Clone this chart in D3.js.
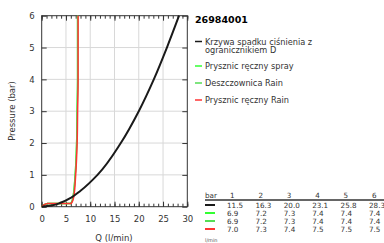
<!DOCTYPE html>
<html>
<head>
<meta charset="utf-8">
<script src="https://cdn.jsdelivr.net/npm/d3@7"></script>
<style>
  body { margin: 0; background: #fff; }
  svg { font-family: "DejaVu Sans", sans-serif; }
</style>
</head>
<body>
<div id="chart"></div>
<script>
// chart data
var title = "26984001";
var seriesNames = ["Krzywa spadku ciśnienia z|ogranicznikiem D", "Prysznic ręczny spray", "Deszczownica Rain", "Prysznic ręczny Rain"];
var seriesColors = ["#1a1a1a", "#33ff33", "#55dd55", "#ff3333"];

// table values (Q at 1..6 bar)
var pressures = [1, 2, 3, 4, 5, 6];
var tableBlack = [11.5, 16.3, 20.0, 23.1, 25.8, 28.3];
var tableSpray = [6.9, 7.2, 7.3, 7.4, 7.4, 7.4];
var tableRainD = [6.9, 7.2, 7.3, 7.4, 7.4, 7.4];
var tableRainH = [7.0, 7.3, 7.4, 7.5, 7.5, 7.5];

// curve points [Q, p]
var curveBlack = [[0, 0], [2, 0.04], [4, 0.13], [6, 0.28], [8, 0.5], [11.5, 1], [16.3, 2], [20.0, 3], [23.1, 4], [25.8, 5], [28.3, 6]];
var curveSpray = [[0, 0], [0.5, 0.06], [1.2, 0.1], [6.0, 0.1], [6.4, 0.25], [6.9, 1], [7.2, 2], [7.3, 3], [7.4, 4], [7.4, 5], [7.4, 6]];
var curveRainD = [[0, 0], [0.5, 0.06], [1.2, 0.1], [6.0, 0.1], [6.4, 0.25], [6.9, 1], [7.2, 2], [7.3, 3], [7.4, 4], [7.4, 5], [7.4, 6]];
var curveRainH = [[0, 0], [0.5, 0.06], [1.2, 0.1], [6.1, 0.1], [6.6, 0.3], [7.0, 1], [7.3, 2], [7.4, 3], [7.5, 4], [7.5, 5], [7.5, 6]];

var xTicks = [0, 5, 10, 15, 20, 25, 30];
var yTicks = [0, 1, 2, 3, 4, 5, 6];

var svgWidth = 384;
var svgHeight = 243;

var plot = { left: 41.7, right: 187.3, top: 15.7, bottom: 206.7 };

var svg = d3.select("#chart")
  .append("svg")
  .attr("width", svgWidth)
  .attr("height", svgHeight);

var x = d3.scaleLinear().domain([0, 30]).range([plot.left, plot.right]);
var y = d3.scaleLinear().domain([0, 6]).range([plot.bottom, plot.top]);

// grid
svg.append("g").selectAll("line")
  .data(xTicks.slice(1, -1))
  .enter().append("line")
  .attr("x1", d => x(d)).attr("x2", d => x(d))
  .attr("y1", plot.top).attr("y2", plot.bottom)
  .attr("stroke", "#d8d8d8").attr("stroke-width", 1);

svg.append("g").selectAll("line")
  .data(yTicks.slice(1, -1))
  .enter().append("line")
  .attr("x1", plot.left).attr("x2", plot.right)
  .attr("y1", d => y(d)).attr("y2", d => y(d))
  .attr("stroke", "#d8d8d8").attr("stroke-width", 1);

// axes (inward ticks)
var minor = d3.range(0, 31, 1);
svg.append("g")
  .attr("transform", `translate(0, ${plot.bottom})`)
  .call(d3.axisBottom(x).tickValues(minor).tickSize(-3).tickFormat(""))
  .call(g => g.select(".domain").remove());
svg.append("g")
  .attr("transform", `translate(0, ${plot.top})`)
  .call(d3.axisTop(x).tickValues(minor).tickSize(-3).tickFormat(""))
  .call(g => g.select(".domain").remove());
svg.append("g")
  .attr("transform", `translate(0, ${plot.bottom})`)
  .call(d3.axisBottom(x).tickValues(xTicks).tickSize(-5).tickPadding(9).tickFormat(d3.format("d")))
  .call(g => g.select(".domain").remove());
svg.append("g")
  .attr("transform", `translate(0, ${plot.top})`)
  .call(d3.axisTop(x).tickValues(xTicks).tickSize(-5).tickFormat(""))
  .call(g => g.select(".domain").remove());
svg.append("g")
  .attr("transform", `translate(${plot.left}, 0)`)
  .call(d3.axisLeft(y).tickValues(yTicks).tickSize(-5).tickPadding(7).tickFormat(d3.format("d")))
  .call(g => g.select(".domain").remove());
svg.append("g")
  .attr("transform", `translate(${plot.right}, 0)`)
  .call(d3.axisRight(y).tickValues(yTicks).tickSize(-5).tickFormat(""))
  .call(g => g.select(".domain").remove());

svg.selectAll(".tick line").attr("stroke", "#333");
svg.selectAll(".tick text").attr("fill", "#333").style("font-size", "8.5px").style("font-family", "DejaVu Sans");

// frame
svg.append("rect")
  .attr("x", plot.left).attr("y", plot.top)
  .attr("width", plot.right - plot.left).attr("height", plot.bottom - plot.top)
  .attr("fill", "none").attr("stroke", "#333").attr("stroke-width", 1);

// curves
var line = d3.line()
  .x(d => x(d[0]))
  .y(d => y(d[1]))
  .curve(d3.curveMonotoneY);

var curves = [curveBlack, curveSpray, curveRainD, curveRainH];
var widths = [2, 1.5, 1.5, 1.5];
[1, 2, 3, 0].forEach(function(i) {
  svg.append("path")
    .datum(curves[i])
    .attr("d", line)
    .attr("fill", "none")
    .attr("stroke", seriesColors[i])
    .attr("stroke-width", widths[i]);
});

// axis labels
svg.append("text")
  .attr("x", 114).attr("y", 241)
  .attr("text-anchor", "middle")
  .attr("fill", "#333").style("font-size", "8.5px")
  .text("Q (l/min)");

svg.append("text")
  .attr("transform", "translate(15, 111) rotate(-90)")
  .attr("text-anchor", "middle")
  .attr("fill", "#333").style("font-size", "8.5px")
  .text("Pressure (bar)");

// legend
svg.append("text")
  .attr("x", 195).attr("y", 22.5)
  .attr("fill", "#000").style("font-size", "9.5px").style("font-weight", "bold")
  .text(title);

var legendY = [41.5, 66, 83, 100];
seriesNames.forEach(function(name, i) {
  svg.append("line")
    .attr("x1", 195).attr("x2", 202)
    .attr("y1", legendY[i]).attr("y2", legendY[i])
    .attr("stroke", seriesColors[i]).attr("stroke-width", 1.5);
  name.split("|").forEach(function(part, j) {
    svg.append("text")
      .attr("x", 205).attr("y", legendY[i] + 3 + j * 8.8)
      .attr("fill", "#333").style("font-size", "8.2px")
      .text(part);
  });
});

// table
var col = d3.scaleLinear().domain([1, 6]).range([227, 369]);
svg.append("text")
  .attr("x", 205).attr("y", 198)
  .attr("fill", "#333").style("font-size", "7.2px")
  .text("bar");
svg.append("g").selectAll("text")
  .data(pressures)
  .enter().append("text")
  .attr("x", d => col(d) + 3).attr("y", 198)
  .attr("fill", "#333").style("font-size", "7.2px")
  .text(d => d);
svg.append("line")
  .attr("x1", 205).attr("x2", 384)
  .attr("y1", 200).attr("y2", 200)
  .attr("stroke", "#333").attr("stroke-width", 1.5);

var tableRows = [tableBlack, tableSpray, tableRainD, tableRainH];
var rowY = [205, 213, 221, 229];
tableRows.forEach(function(row, i) {
  svg.append("line")
    .attr("x1", 205).attr("x2", 215)
    .attr("y1", rowY[i]).attr("y2", rowY[i])
    .attr("stroke", seriesColors[i]).attr("stroke-width", 2);
  svg.append("g").selectAll("text")
    .data(row)
    .enter().append("text")
    .attr("x", (d, k) => col(pressures[k]))
    .attr("y", rowY[i] + 2.7)
    .attr("fill", "#333").style("font-size", "7.2px")
    .text(d => d.toFixed(1));
});
svg.append("text")
  .attr("x", 205).attr("y", 242)
  .attr("fill", "#555").style("font-size", "5px")
  .text("l/min");
</script>
</body>
</html>
